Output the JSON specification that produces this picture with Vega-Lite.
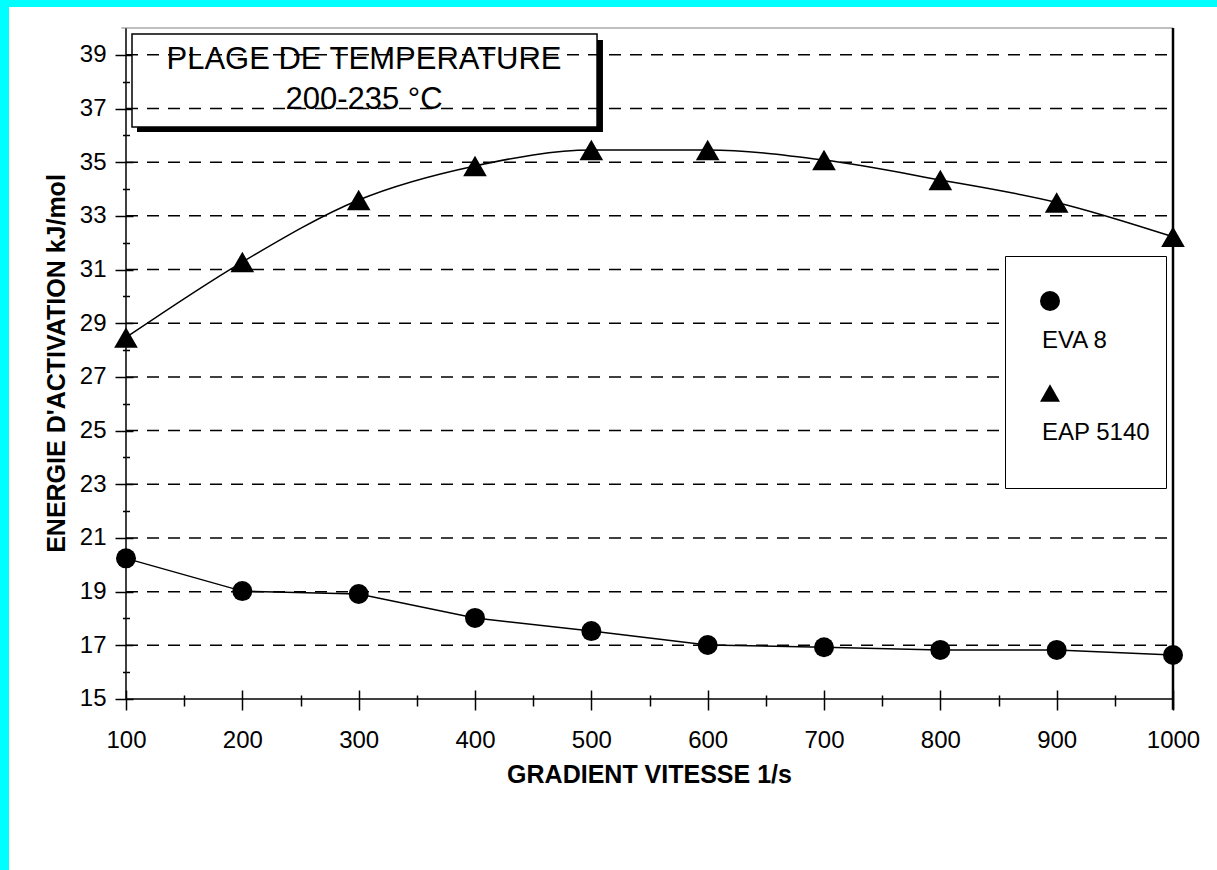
{
  "$schema": "https://vega.github.io/schema/vega-lite/v6.json",
  "width": 1208,
  "height": 863,
  "autosize": {"type": "none"},
  "padding": {"left": 9, "top": 7, "right": 0, "bottom": 0},
  "background": "#00FFFF",
  "config": {
    "font": "Liberation Sans",
    "view": {"fill": "white", "stroke": null},
    "style": {"guide-label": {"lineHeight": 28}}
  },
  "data": {
    "values": [
      {"series": "EVA 8", "gradient": 100, "energie": 20.24},
      {"series": "EVA 8", "gradient": 200, "energie": 19.02},
      {"series": "EVA 8", "gradient": 300, "energie": 18.91},
      {"series": "EVA 8", "gradient": 400, "energie": 18.02},
      {"series": "EVA 8", "gradient": 500, "energie": 17.53},
      {"series": "EVA 8", "gradient": 600, "energie": 17.01},
      {"series": "EVA 8", "gradient": 700, "energie": 16.93},
      {"series": "EVA 8", "gradient": 800, "energie": 16.83},
      {"series": "EVA 8", "gradient": 900, "energie": 16.83},
      {"series": "EVA 8", "gradient": 1000, "energie": 16.64},
      {"series": "EAP 5140", "gradient": 100, "energie": 28.47},
      {"series": "EAP 5140", "gradient": 200, "energie": 31.28},
      {"series": "EAP 5140", "gradient": 300, "energie": 33.59},
      {"series": "EAP 5140", "gradient": 400, "energie": 34.86},
      {"series": "EAP 5140", "gradient": 500, "energie": 35.45},
      {"series": "EAP 5140", "gradient": 600, "energie": 35.45},
      {"series": "EAP 5140", "gradient": 700, "energie": 35.08},
      {"series": "EAP 5140", "gradient": 800, "energie": 34.34},
      {"series": "EAP 5140", "gradient": 900, "energie": 33.5},
      {"series": "EAP 5140", "gradient": 1000, "energie": 32.22}
    ]
  },
  "resolve": {"axis": {"x": "independent", "y": "independent"}},
  "layer": [
    {
      "data": {"values": [{}]},
      "mark": {"type": "rect", "color": "black"},
      "encoding": {
        "x": {"datum": 109.46, "type": "quantitative", "axis": null, "scale": {"domain": [-0.573, 1037.82], "nice": false, "zero": false}},
        "x2": {"datum": 510.0},
        "y": {"datum": 39.553, "type": "quantitative", "axis": null, "scale": {"domain": [8.629, 40.782], "nice": false, "zero": false}},
        "y2": {"datum": 36.125}
      }
    },
    {
      "data": {"values": [{}]},
      "mark": {"type": "rect", "fill": "white", "stroke": "black", "strokeWidth": 1.5},
      "encoding": {
        "x": {"datum": 105.16, "type": "quantitative", "axis": null},
        "x2": {"datum": 504.9},
        "y": {"datum": 39.78, "type": "quantitative", "axis": null},
        "y2": {"datum": 36.31}
      }
    },
    {
      "data": {"values": [{"g": 17}, {"g": 19}, {"g": 21}, {"g": 23}, {"g": 25}, {"g": 27}, {"g": 29}, {"g": 31}, {"g": 33}, {"g": 35}, {"g": 37}, {"g": 39}]},
      "mark": {"type": "rule", "color": "black", "strokeWidth": 1.5, "strokeDash": [12, 9]},
      "encoding": {
        "x": {"datum": 100, "type": "quantitative", "axis": null},
        "x2": {"datum": 1000},
        "y": {
          "field": "g", "type": "quantitative",
          "scale": {"domain": [8.629, 40.782], "nice": false, "zero": false},
          "axis": {
            "orient": "left", "offset": -117,
            "values": [15, 17, 19, 21, 23, 25, 27, 29, 31, 33, 35, 37, 39],
            "domain": false, "grid": false,
            "tickSize": 11, "tickWidth": 1.5, "tickColor": "black",
            "labelFont": "Liberation Sans", "labelFontSize": 24, "labelColor": "black", "labelPadding": 9,
            "labelOverlap": false, "labelFlush": false,
            "title": "ENERGIE D'ACTIVATION kJ/mol",
            "titleFont": "Liberation Sans", "titleFontSize": 25, "titleFontWeight": "bold", "titleColor": "black",
            "titleAngle": -90, "titleX": -70, "titleY": 356, "titleAlign": "center", "titleBaseline": "middle"
          }
        }
      }
    },
    {
      "data": {"values": [{}]},
      "mark": {"type": "rule", "color": "black", "strokeWidth": 1.5},
      "encoding": {
        "x": {"datum": 100, "type": "quantitative", "axis": null},
        "y": {"datum": 15, "type": "quantitative", "axis": null},
        "y2": {"datum": 40}
      }
    },
    {
      "data": {"values": [{}]},
      "mark": {"type": "rule", "color": "black", "strokeWidth": 1.5},
      "encoding": {
        "x": {"datum": 100, "type": "quantitative", "axis": null},
        "x2": {"datum": 1000},
        "y": {"datum": 15, "type": "quantitative", "axis": null}
      }
    },
    {
      "data": {"values": [{}]},
      "mark": {"type": "rule", "color": "#808080", "strokeWidth": 1.2},
      "encoding": {
        "x": {"datum": 96, "type": "quantitative", "axis": null},
        "x2": {"datum": 1000},
        "y": {"datum": 40, "type": "quantitative", "axis": null}
      }
    },
    {
      "data": {"values": [{}]},
      "mark": {"type": "rule", "color": "black", "strokeWidth": 2.5},
      "encoding": {
        "x": {"datum": 1000, "type": "quantitative", "axis": null},
        "y": {"datum": 14.6, "type": "quantitative", "axis": null},
        "y2": {"datum": 40}
      }
    },
    {
      "transform": [{"filter": "datum.series === 'EVA 8'"}],
      "mark": {"type": "line", "color": "black", "strokeWidth": 1.5},
      "encoding": {
        "x": {
          "field": "gradient", "type": "quantitative",
          "scale": {"domain": [-0.573, 1037.82], "nice": false, "zero": false},
          "axis": {
            "orient": "bottom", "offset": -171,
            "values": [100, 200, 300, 400, 500, 600, 700, 800, 900, 1000],
            "format": "d",
            "domain": false, "grid": false,
            "tickSize": 11, "tickWidth": 1.5, "tickColor": "black",
            "labelFont": "Liberation Sans", "labelFontSize": 24, "labelColor": "black", "labelPadding": 18,
            "labelOverlap": false, "labelFlush": false,
            "title": "GRADIENT VITESSE 1/s",
            "titleFont": "Liberation Sans", "titleFontSize": 25, "titleFontWeight": "bold", "titleColor": "black",
            "titleX": 640, "titleY": 83, "titleAlign": "center", "titleBaseline": "alphabetic"
          }
        },
        "y": {
          "field": "energie", "type": "quantitative",
          "axis": {
            "orient": "left", "offset": -117,
            "values": [15, 16, 17, 18, 19, 20, 21, 22, 23, 24, 25, 26, 27, 28, 29, 30, 31, 32, 33, 34, 35, 36, 37, 38, 39],
            "domain": false, "grid": false, "labels": false, "title": null,
            "tickSize": {"condition": {"test": "datum.value % 2 === 1", "value": -7}, "value": -3.5},
            "tickWidth": 1.5, "tickColor": "black"
          }
        }
      }
    },
    {
      "transform": [{"filter": "datum.series === 'EAP 5140'"}],
      "mark": {"type": "line", "color": "black", "strokeWidth": 1.5, "interpolate": "monotone"},
      "encoding": {
        "x": {
          "field": "gradient", "type": "quantitative",
          "axis": {
            "orient": "bottom", "offset": -171,
            "values": [100, 150, 200, 250, 300, 350, 400, 450, 500, 550, 600, 650, 700, 750, 800, 850, 900, 950, 1000],
            "domain": false, "grid": false, "labels": false, "title": null,
            "tickSize": {"condition": {"test": "datum.value % 100 === 0", "value": -9}, "value": -4},
            "tickWidth": 1.5, "tickColor": "black"
          }
        },
        "y": {
          "field": "energie", "type": "quantitative",
          "axis": {
            "orient": "left", "offset": -117,
            "values": [16, 18, 20, 22, 24, 26, 28, 30, 32, 34, 36, 38],
            "domain": false, "grid": false, "labels": false, "title": null,
            "tickSize": 3.5, "tickWidth": 1.5, "tickColor": "black"
          }
        }
      }
    },
    {
      "transform": [{"filter": "datum.series === 'EVA 8'"}],
      "mark": {"type": "point", "filled": true, "color": "black", "opacity": 1, "size": 400},
      "encoding": {
        "x": {
          "field": "gradient", "type": "quantitative",
          "axis": {
            "orient": "bottom", "offset": -171,
            "values": [150, 250, 350, 450, 550, 650, 750, 850, 950],
            "domain": false, "grid": false, "labels": false, "title": null,
            "tickSize": 7, "tickWidth": 1.5, "tickColor": "black"
          }
        },
        "y": {"field": "energie", "type": "quantitative", "axis": null},
        "shape": {
          "field": "series", "type": "nominal",
          "scale": {"domain": ["EVA 8", "EAP 5140"], "range": ["circle", "triangle-up"]},
          "legend": {
            "title": " ", "titleFontSize": 10, "titlePadding": 8,
            "orient": "none", "legendX": 996, "legendY": 249,
            "fillColor": "white", "strokeColor": "black", "padding": 15,
            "symbolSize": 400, "symbolFillColor": "black", "symbolStrokeColor": "black", "symbolStrokeWidth": 0,
            "symbolOffset": 18, "labelOffset": -20,
            "labelBaseline": "top", "labelFont": "Liberation Sans", "labelFontSize": 24, "labelColor": "black",
            "labelExpr": "['', datum.label + '  ', '']",
            "rowPadding": 0
          }
        }
      }
    },
    {
      "transform": [{"filter": "datum.series === 'EAP 5140'"}],
      "mark": {"type": "point", "filled": true, "color": "black", "opacity": 1, "size": 560},
      "encoding": {
        "x": {"field": "gradient", "type": "quantitative", "axis": null},
        "y": {"field": "energie", "type": "quantitative", "axis": null},
        "shape": {"field": "series", "type": "nominal"}
      }
    },
    {
      "data": {"values": [{}]},
      "mark": {"type": "text", "text": ["PLAGE DE TEMPERATURE", "200-235 °C"], "font": "Liberation Sans", "fontSize": 31, "lineHeight": 40, "align": "center", "baseline": "middle", "color": "black"},
      "encoding": {
        "x": {"datum": 304.6, "type": "quantitative", "axis": null},
        "y": {"datum": 38.81, "type": "quantitative", "axis": null}
      }
    }
  ]
}
